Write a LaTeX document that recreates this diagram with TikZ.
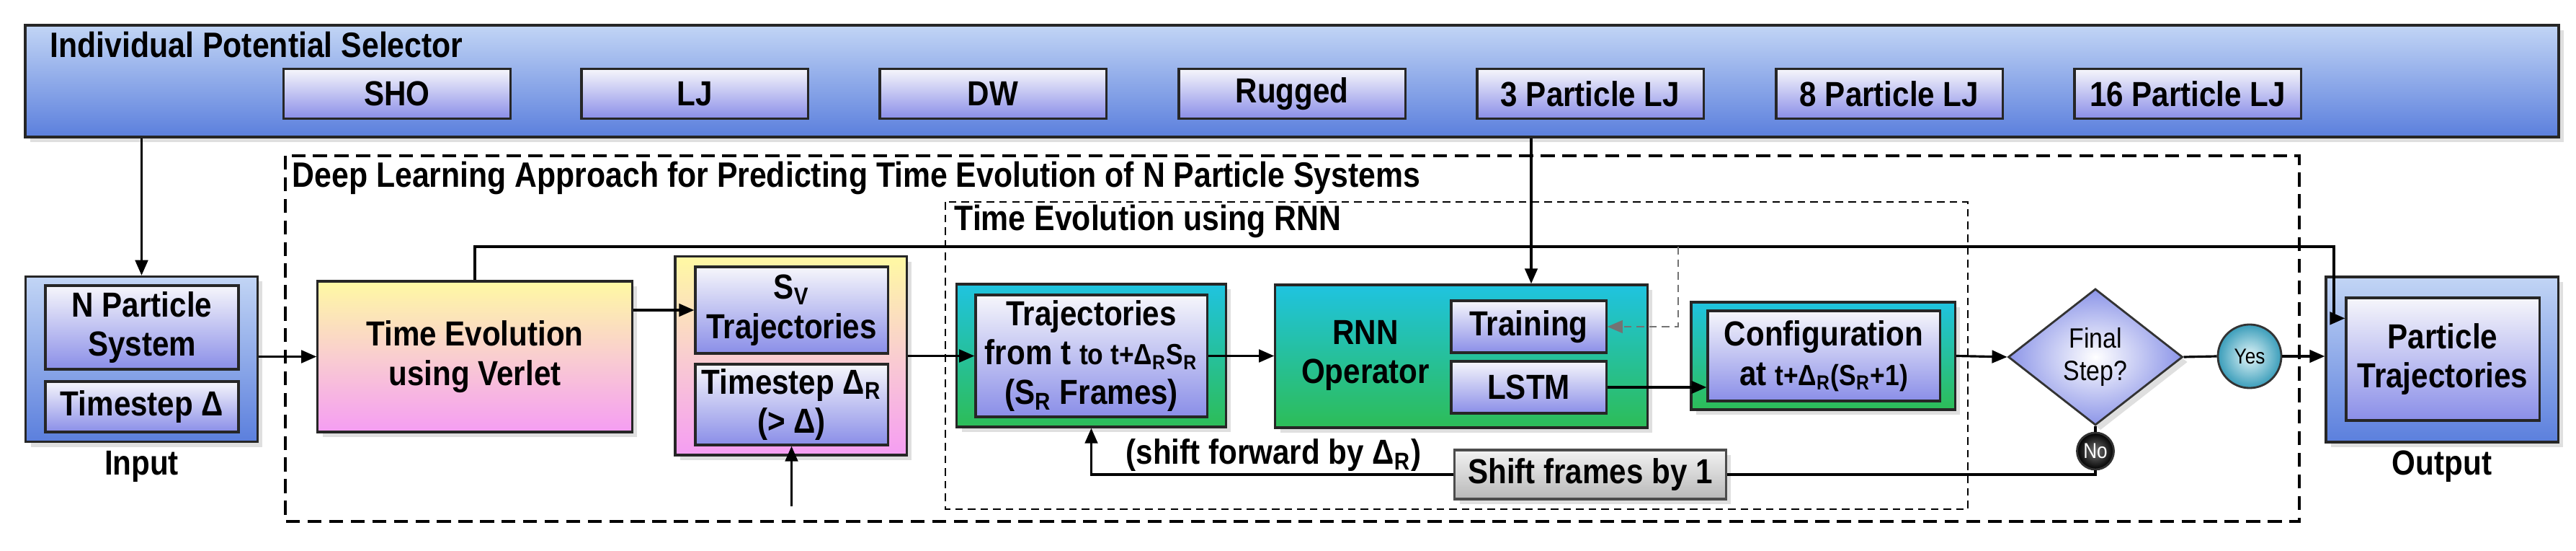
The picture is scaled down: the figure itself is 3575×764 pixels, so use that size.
\documentclass[tikz,border=0pt]{standalone}
\usepackage{fontspec}
\setmainfont{Liberation Sans}[FakeStretch=0.875]
\usetikzlibrary{positioning, arrows.meta, shapes.geometric, shadows, calc}
\definecolor{panelTop}{HTML}{C2D5F5}
\definecolor{panelBot}{HTML}{5B7FDD}
\definecolor{itemTop}{HTML}{F6F6FB}
\definecolor{itemBot}{HTML}{8A8EE8}
\definecolor{warmTop}{HTML}{FFF9A3}
\definecolor{warmMid}{HTML}{F9CDD0}
\definecolor{warmBot}{HTML}{F59DF3}
\definecolor{rnnTop}{HTML}{1FC3E0}
\definecolor{rnnBot}{HTML}{2DBD57}
\definecolor{decOut}{HTML}{8C95E8}
\definecolor{yesOut}{HTML}{3A9DBA}
\definecolor{yesIn}{HTML}{E2F5F8}

\begin{document}
\begin{tikzpicture}[x=0.01cm, y=-0.01cm,
  every node/.style={font=\bfseries\fontsize{13.7}{15.5}\selectfont, align=center, inner sep=0pt},
  softshadow/.style={drop shadow={opacity=0.25, shadow xshift=2pt, shadow yshift=-2pt}},
  panel/.style={
    draw=black!85,
    line width=0.9pt,
    top color=panelTop,
    bottom color=panelBot,
    softshadow
  },
  item/.style={
    draw=black!85,
    line width=0.9pt,
    top color=itemTop,
    bottom color=itemBot
  },
  warm/.style={
    draw=black!85,
    line width=0.9pt,
    top color=warmTop,
    bottom color=warmBot,
    middle color=warmMid,
    softshadow
  },
  rnnbox/.style={
    draw=black!85,
    line width=0.9pt,
    top color=rnnTop,
    bottom color=rnnBot,
    softshadow
  },
  grey/.style={
    draw=black!70,
    line width=0.9pt,
    top color=black!5,
    bottom color=black!28,
    softshadow
  },
  decision/.style={
    diamond,
    draw=black!80,
    line width=0.8pt,
    inner color=white,
    outer color=decOut,
    minimum width=2.42cm,
    minimum height=1.89cm,
    font=\fontsize{11}{13}\selectfont,
    softshadow
  },
  answer/.style={
    circle,
    draw=black!80,
    line width=0.8pt,
    font=\fontsize{8.5}{10}\selectfont
  },
  title/.style={anchor=west, font=\bfseries\fontsize{13.9}{16}\selectfont},
  link/.style={draw, -{Triangle[length=6pt,width=5pt]}, line width=0.9pt},
  plain/.style={draw, line width=0.9pt},
  outerdash/.style={draw, dash pattern=on 5.5pt off 3pt, line width=1.3pt},
  innerdash/.style={draw, dash pattern=on 3pt off 2pt, line width=0.5pt},
  trainlink/.style={draw=black!55, dash pattern=on 3pt off 2pt, line width=0.6pt,
    -{Triangle[length=6pt,width=5pt]}}
]
\useasboundingbox (0,0) rectangle (3575,764);

\node[panel, minimum width=35.14cm, minimum height=1.55cm] (selector) at (1793,112.5) {};
\node[title] (seltitle) at (69,62) {Individual Potential Selector};

\foreach \cx/\nm/\txt in {551/sho/SHO, 964/lj/LJ, 1378/dw/DW, 1793/rug/Rugged,
    2207/lj3/3 Particle LJ, 2622/lj8/8 Particle LJ, 3036/lj16/16 Particle LJ}
  \node[item, minimum width=3.14cm, minimum height=0.69cm] (\nm) at (\cx,130) {\txt};

\draw[outerdash] (396,216) rectangle (3191,723);
\node[title] (dltitle) at (405,247)
  {Deep Learning Approach for Predicting Time Evolution of N Particle Systems};

\draw[innerdash] (1312,280) rectangle (2731,706);
\node[title] (rnntitle) at (1324,307) {Time Evolution using RNN};

\node[panel, minimum width=3.21cm, minimum height=2.29cm] (input) at (196.5,498) {};
\node[item, minimum width=2.68cm, minimum height=1.16cm] (npsys) at (197,454) {N Particle\\System};
\node[item, minimum width=2.68cm, minimum height=0.70cm] (tstep) at (197,564) {Timestep Δ};
\node[below=0.1cm of input] (inputlbl) {Input};

\node[warm, minimum width=4.36cm, minimum height=2.09cm] (verlet) at (659,494.5) {Time Evolution\\using Verlet};

\node[warm, minimum width=3.21cm, minimum height=2.75cm] (svbox) at (1097.5,493.5) {};
\node[item, minimum width=2.67cm, minimum height=1.20cm] (svtraj) at (1098.5,430)
  {S\textsubscript{V}\\Trajectories};
\node[item, minimum width=2.67cm, minimum height=1.12cm] (svdt) at (1098.5,561)
  {Timestep Δ\textsubscript{R}\\(> Δ)};

\node[rnnbox, minimum width=3.73cm, minimum height=1.98cm] (trajbox) at (1514.5,493) {};
\node[item, minimum width=3.21cm, minimum height=1.69cm] (trajin) at (1514.5,493.5)
  {Trajectories\\from t {\fontsize{11.5}{15.5}\selectfont to t+Δ\textsubscript{R}S\textsubscript{R}}\\(S\textsubscript{R} Frames)};

\node[rnnbox, minimum width=5.16cm, minimum height=1.98cm] (rnn) at (2028,494) {};
\node (rnntxt) at (1895,493) {RNN\\Operator};
\node[item, minimum width=2.15cm, minimum height=0.72cm] (training) at (2121.5,453) {Training};
\node[item, minimum width=2.15cm, minimum height=0.72cm] (lstm) at (2121.5,537) {LSTM};

\node[rnnbox, minimum width=3.66cm, minimum height=1.49cm] (cfgbox) at (2530,493.5) {};
\node[item, minimum width=3.22cm, minimum height=1.25cm] (cfgin) at (2531,493.5)
  {Configuration\\at {\fontsize{11.5}{15.5}\selectfont t+Δ\textsubscript{R}(S\textsubscript{R}+1)}};

\node[decision] (final) at (2908,495) {Final\\Step?};
\node[answer, inner color=yesIn, outer color=yesOut, minimum size=0.88cm] (yes) at (3122,494) {Yes};
\node[answer, inner color=black!55, outer color=black, text=white, minimum size=0.51cm] (no) at (2908,625.5) {No};

\node[grey, minimum width=3.76cm, minimum height=0.68cm] (shift) at (2207,658) {Shift frames by 1};
\node[anchor=west] (shiftlbl) at (1562,631) {(shift forward by Δ\textsubscript{R})};

\node[panel, minimum width=3.22cm, minimum height=2.29cm] (output) at (3389,498.5) {};
\node[item, minimum width=2.68cm, minimum height=1.70cm] (outin) at (3390,498) {Particle\\Trajectories};
\node[below=0.1cm of output] (outputlbl) {Output};

\coordinate (rnnin) at ($(rnn.north)+(97,0)$);
\coordinate (topright) at (3239,342);
\coordinate (tap) at (2329,342);
\coordinate (dtsrc) at (1098.5,702);

\draw[link] (selector.south -| input.north) -- (input.north);
\draw[link] (selector.south -| rnnin) -- (rnnin);
\draw[link] (input.east |- verlet) -- (verlet.west);
\draw[link] (verlet.east |- svtraj) -- (svtraj.west);
\draw[link] (svbox.east |- trajin) -- (trajin.west);
\draw[link] (trajin.east) -- (rnn.west |- trajin);
\draw[link] (lstm.east) -- (cfgin.west |- lstm);
\draw[link] (cfgbox.east) -- (final.west);
\draw[plain] (final.east) -- (yes.west);
\draw[link] (yes.east) -- (output.west |- yes);
\draw[plain] (final.south) -- (no.north);
\draw[plain] (no.south) |- (shift.east);
\draw[link] (shift.west) -| (trajbox.south);
\draw[link] (verlet.north) |- (topright) |- ($(outin.north west)+(0,30)$);
\draw[trainlink] (tap) |- (training.east);
\draw[link] (dtsrc) -- (svdt.south);

\end{tikzpicture}
\end{document}
